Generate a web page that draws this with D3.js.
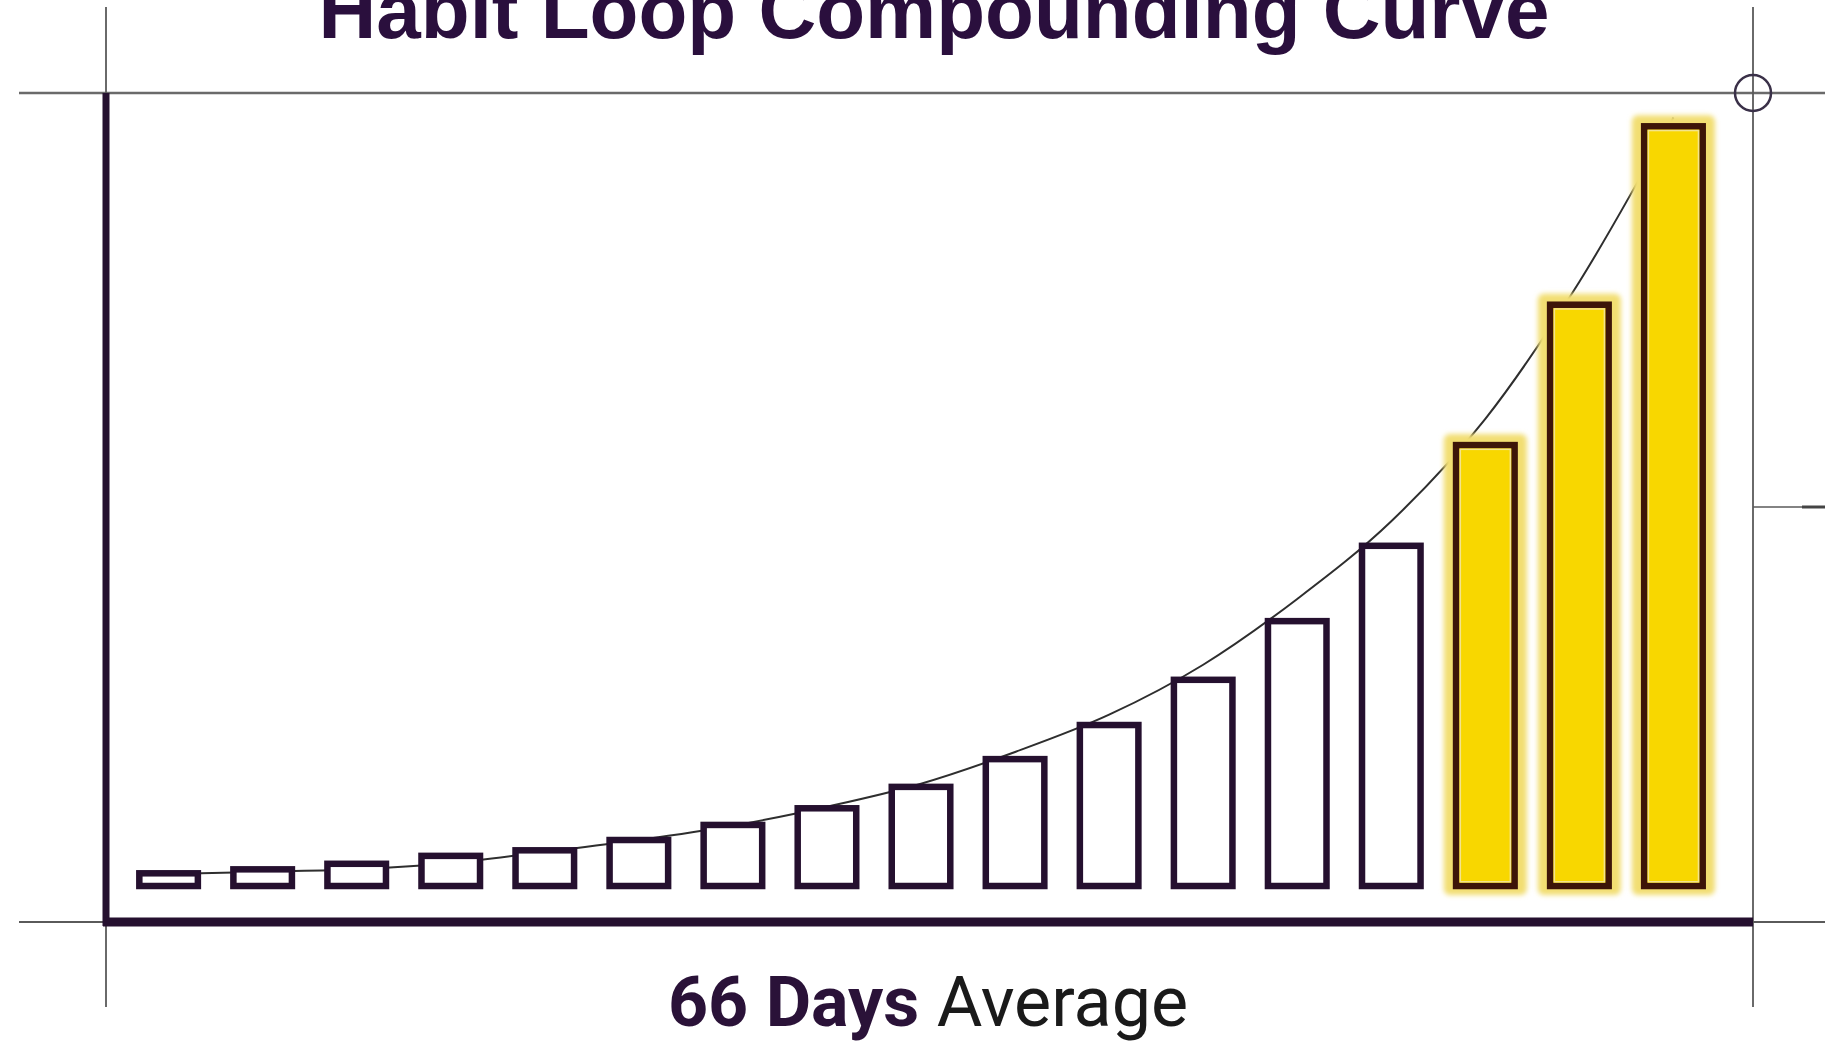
<!DOCTYPE html>
<html>
<head>
<meta charset="utf-8">
<script src="https://cdn.jsdelivr.net/npm/d3@7"></script>
<style>
  body { margin: 0; background: #fff; }
  svg { display: block; }
</style>
</head>
<body>
<div id="chart-area"></div>
<script>
// data (value = % of max height)
var steps = ["1", "2", "3", "4", "5", "6", "7", "8", "9", "10", "11", "12", "13", "14", "15", "16", "17"];
var strength = [1.6, 2.1, 2.8, 3.8, 4.5, 5.8, 7.7, 9.8, 12.5, 16.0, 20.3, 26.0, 33.4, 42.9, 55.6, 73.3, 95.8];
var trend = [1.5, 1.8, 2.1, 2.9, 4.3, 5.8, 7.6, 10.0, 12.9, 16.9, 21.6, 27.9, 36.2, 46.0, 58.9, 76.2, 96.9];
var highlighted = ["15", "16", "17"];
var title = "Habit Loop Compounding Curve";
var footBold = "66 Days";
var footRest = "Average";

var W = 1825, H = 1043;
var frame = { left: 106, right: 1753, top: 93, bottom: 922 };
var ink = "#25102f";
var sw = 6.5;

var svg = d3.select("#chart-area").append("svg")
    .attr("width", W)
    .attr("height", H);

var defs = svg.append("defs");
defs.append("filter")
    .attr("id", "glow")
    .attr("x", "-30%").attr("y", "-10%")
    .attr("width", "160%").attr("height", "120%")
  .append("feGaussianBlur")
    .attr("stdDeviation", 2.5);

var x = d3.scaleBand()
    .domain(steps)
    .range([frame.left, frame.right])
    .paddingInner(0.3085)
    .paddingOuter(0.41)
    .align(0.39);

var y = d3.scaleLinear()
    .domain([0, 100])
    .range([886, frame.top]);

// thin construction lines
var guides = svg.append("g").attr("stroke", "#5a5a5a").attr("fill", "none");
guides.append("line")
    .attr("x1", 19).attr("x2", W)
    .attr("y1", frame.top).attr("y2", frame.top)
    .attr("stroke-width", 2.5).attr("stroke", "#6a6a6a");
guides.append("line")
    .attr("x1", 19).attr("x2", W)
    .attr("y1", frame.bottom).attr("y2", frame.bottom)
    .attr("stroke-width", 2);
guides.append("line")
    .attr("x1", frame.left).attr("x2", frame.left)
    .attr("y1", 7).attr("y2", 1007)
    .attr("stroke-width", 1.8);
guides.append("line")
    .attr("x1", frame.right).attr("x2", frame.right)
    .attr("y1", 7).attr("y2", 1007)
    .attr("stroke-width", 1.8);
guides.append("line")
    .attr("x1", frame.right).attr("x2", W)
    .attr("y1", 507).attr("y2", 507)
    .attr("stroke-width", 1.5);
guides.append("line")
    .attr("x1", 1802).attr("x2", W)
    .attr("y1", 507).attr("y2", 507)
    .attr("stroke-width", 3).attr("stroke", "#444");
guides.append("circle")
    .attr("cx", frame.right).attr("cy", frame.top)
    .attr("r", 18)
    .attr("stroke", "#3a3048")
    .attr("stroke-width", 2.5);

// title
svg.append("text")
    .attr("x", 934)
    .attr("y", 38)
    .attr("text-anchor", "middle")
    .attr("font-family", "'Liberation Sans', Arial, sans-serif")
    .attr("font-weight", "bold")
    .attr("font-size", 80)
    .attr("fill", "#2a0f3d")
    .text(title);

// trend curve sits behind the bars
var line = d3.line()
    .x((d, i) => x(steps[i]) + x.bandwidth() / 2)
    .y(d => y(d))
    .curve(d3.curveMonotoneX);

svg.append("path")
    .datum(trend)
    .attr("d", line)
    .attr("fill", "none")
    .attr("stroke", "#2e2e2e")
    .attr("stroke-width", 2);

var data = steps.map((s, i) => ({ step: s, value: strength[i], hot: highlighted.indexOf(s) >= 0 }));
var hot = data.filter(d => d.hot);

var bars = svg.append("g");

bars.selectAll("rect.halo")
    .data(hot)
    .enter().append("rect")
    .attr("class", "halo")
    .attr("x", d => x(d.step) - 9)
    .attr("y", d => y(d.value) - 11)
    .attr("width", x.bandwidth() + 18)
    .attr("height", d => y(0) - y(d.value) + 20)
    .attr("rx", 6)
    .attr("fill", "#f2de72")
    .attr("filter", "url(#glow)");

bars.selectAll("rect.bar")
    .data(data)
    .enter().append("rect")
    .attr("class", "bar")
    .attr("x", d => x(d.step) + sw / 2)
    .attr("y", d => y(d.value))
    .attr("width", x.bandwidth() - sw)
    .attr("height", d => y(0) - y(d.value))
    .attr("fill", d => d.hot ? "#f8d700" : "#fff")
    .attr("stroke", d => d.hot ? "#3d1508" : ink)
    .attr("stroke-width", sw);

// pale inner rim on the highlighted bars
bars.selectAll("rect.rim")
    .data(hot)
    .enter().append("rect")
    .attr("class", "rim")
    .attr("x", d => x(d.step) + sw + 1)
    .attr("y", d => y(d.value) + sw / 2 + 1)
    .attr("width", x.bandwidth() - 2 * sw - 2)
    .attr("height", d => y(0) - y(d.value) - sw - 2)
    .attr("fill", "none")
    .attr("stroke", "#f4e48c")
    .attr("stroke-width", 1.5);

// heavy axis lines
svg.append("line")
    .attr("x1", frame.left).attr("x2", frame.left)
    .attr("y1", frame.top).attr("y2", frame.bottom + 4)
    .attr("stroke", ink)
    .attr("stroke-width", 7);
svg.append("line")
    .attr("x1", frame.left - 3).attr("x2", frame.right)
    .attr("y1", frame.bottom).attr("y2", frame.bottom)
    .attr("stroke", ink)
    .attr("stroke-width", 9);

// footer
var foot = svg.append("text")
    .attr("x", 928)
    .attr("y", 1026)
    .attr("text-anchor", "middle")
    .attr("font-family", "Roboto, sans-serif")
    .attr("font-size", 70);
foot.append("tspan")
    .attr("font-weight", "bold")
    .attr("fill", "#2a1238")
    .text(footBold + " ");
foot.append("tspan")
    .attr("fill", "#1a1a1a")
    .text(footRest);
</script>
</body>
</html>
